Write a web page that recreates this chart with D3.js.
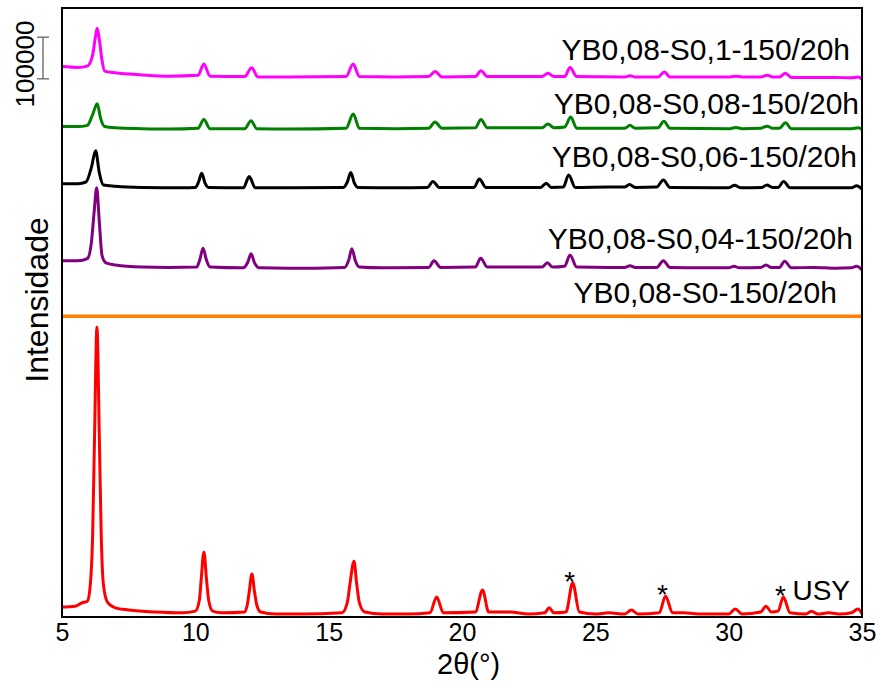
<!DOCTYPE html>
<html>
<head>
<meta charset="utf-8">
<script src="https://cdn.jsdelivr.net/npm/d3@7"></script>
<style>
  body { margin: 0; background: #fff; }
  text { font-family: "Liberation Sans", Arial, sans-serif; fill: #000; }
</style>
</head>
<body>
<div id="chart"></div>
<script>
// 2theta tick labels
const thetaTicks = [5, 10, 15, 20, 25, 30, 35];

// series names, top to bottom
const seriesNames = [
  "YB0,08-S0,1-150/20h",
  "YB0,08-S0,08-150/20h",
  "YB0,08-S0,06-150/20h",
  "YB0,08-S0,04-150/20h",
  "YB0,08-S0-150/20h",
  "USY"
];

// vertical stacking offset of each pattern (thousand counts)
const offsetsK = [1296, 1172, 1030, 838, 722, 0];

// [2theta, intensity in thousand counts]
const s01 = [[5.0,25],[5.6,23],[5.95,26],[6.15,53],[6.25,95],[6.32,117],[6.4,90],[6.5,40],[6.6,14],[7.0,10],[8.0,5],[9.0,2],
  [10.1,4],[10.32,31],[10.55,2],[11.85,1],[12.11,22],[12.35,0],[13.5,0],[15.65,1],[15.92,31],[16.15,1],[17.5,0],
  [18.75,1],[18.99,13],[19.25,0],[20.5,1],[20.71,15],[20.95,1],[23.0,1],[23.22,9],[23.45,1],[23.85,1],[24.05,23],[24.3,1],
  [26.1,0],[26.3,3],[26.5,0],[27.35,0],[27.59,12],[27.8,0],[30.05,0],[30.27,2],[30.5,0],[31.2,0],[31.45,4],[31.65,0],
  [31.9,0],[32.13,9],[32.35,-1],[34.0,-1],[34.6,-2],[34.86,0],[35.0,-5]];

const s008 = [[5.0,5],[5.6,5],[5.95,8],[6.15,34],[6.32,60],[6.45,24],[6.6,5],[7.0,2],[8.0,0],[9.0,-1],[10.1,1],[10.32,22],
  [10.55,0],[11.85,0],[12.09,19],[12.3,0],[13.5,-1],[15.65,1],[15.92,35],[16.15,1],[17.5,0],[18.75,1],[18.99,16],[19.25,1],
  [20.5,2],[20.71,22],[20.95,2],[23.0,2],[23.22,11],[23.45,2],[23.85,4],[24.08,28],[24.3,1],[26.1,1],[26.3,8],[26.5,1],
  [27.35,2],[27.57,18],[27.8,1],[30.05,0],[30.27,3],[30.5,0],[31.2,1],[31.45,6],[31.65,1],[31.9,1],[32.13,14],[32.35,0],
  [34.0,0],[34.6,0],[34.86,2],[35.0,-2]];

const s006 = [[5.0,10],[5.6,10],[5.9,14],[6.1,48],[6.26,89],[6.4,36],[6.55,7],[7.0,4],[8.0,1],[9.5,0],[10.0,1],[10.12,14],
  [10.24,35],[10.36,12],[10.5,1],[11.8,0],[12.02,27],[12.25,0],[13.5,0],[15.55,1],[15.7,14],[15.83,37],[15.96,12],[16.1,1],
  [17.5,0],[18.7,1],[18.91,15],[19.15,1],[20.45,1],[20.65,21],[20.9,1],[22.95,1],[23.16,11],[23.35,1],[23.8,2],[24.0,31],
  [24.25,1],[25.5,2],[26.1,2],[26.28,8],[26.5,1],[27.3,2],[27.55,19],[27.8,1],[29.5,0],[30.0,0],[30.22,6],[30.45,0],
  [31.25,1],[31.43,7],[31.65,1],[31.85,1],[32.06,15],[32.3,0],[34.0,0],[34.6,0],[34.8,5],[35.0,-3]];

const s004 = [[5.0,17],[5.6,17],[5.95,22],[6.1,60],[6.2,130],[6.3,192],[6.4,110],[6.5,30],[6.65,12],[7.0,7],[8.0,2],[9.0,1],
  [10.05,2],[10.17,20],[10.29,47],[10.42,18],[10.55,2],[11.8,0],[11.97,14],[12.09,34],[12.22,12],[12.4,0],[13.5,-1],
  [15.6,1],[15.75,18],[15.87,46],[16.0,17],[16.15,2],[17.0,0],[18.75,1],[18.95,17],[19.2,1],[20.5,2],[20.7,23],[20.95,2],
  [23.0,2],[23.2,12],[23.4,2],[23.85,4],[24.05,31],[24.3,2],[25.5,1],[26.1,1],[26.3,5],[26.5,1],[27.3,1],[27.55,17],
  [27.8,1],[29.0,0],[30.0,0],[30.2,4],[30.4,0],[31.2,1],[31.4,7],[31.6,1],[31.9,1],[32.1,16],[32.35,0],[33.2,1],
  [34.0,-1],[34.6,0],[34.8,4],[35.0,-5]];

const s0 = [[5.0,0],[10.0,0],[15.0,0],[20.0,0],[25.0,0],[30.0,0],[35.0,0]];

const usy = [[5.0,24],[5.5,26],[5.75,34],[5.95,38],[6.05,70],[6.15,200],[6.22,432],[6.31,696],[6.4,432],[6.47,200],[6.55,80],[6.7,36],[7.0,22],
  [7.5,17],[8.5,12],[9.5,10],[10.0,14],[10.15,40],[10.22,90],[10.32,156],[10.42,90],[10.5,40],[10.65,14],[11.0,10],[11.85,12],[11.95,30],[12.02,60],
  [12.12,103],[12.22,60],[12.3,30],[12.45,12],[13.0,7],[14.0,7],[15.5,10],[15.7,35],[15.8,80],[15.95,134],[16.05,80],[16.15,35],[16.35,12],[17.0,7],
  [18.0,7],[18.8,10],[19.05,48],[19.3,10],[20.5,12],[20.77,65],[21.0,12],[21.8,12],[22.5,7],[23.1,10],[23.27,22],
  [23.45,10],[23.9,12],[24.15,82],[24.4,12],[25.0,7],[25.5,10],[26.1,7],[26.35,17],[26.6,7],[27.4,10],[27.63,50],
  [27.9,10],[28.3,10],[29.0,7],[30.0,7],[30.25,19],[30.5,7],[31.2,12],[31.4,26],[31.6,12],[31.85,14],[32.05,48],
  [32.3,10],[32.9,7],[33.1,14],[33.35,7],[33.75,10],[34.2,7],[34.6,10],[34.85,19],[35.0,7]];

const patterns = [s01, s008, s006, s004, s0, usy];

// peaks marked with * on the USY pattern
const starPeaks = [24.15, 27.63, 32.05];

// scale bar value (counts)
const scaleBarValue = 100000;

// ---- layout / style ----
const colors = ["#ff00ff", "#008000", "#000000", "#800080", "#ff8000", "#ff0000"];
const widths = [3, 3, 3, 3, 3.5, 3];
// label anchor: [2theta at text end, baseline in thousand counts]
const labelAnchor = [[34.55, 1337], [34.89, 1207], [34.81, 1080], [34.66, 883], [34.06, 754]];

const margin = { top: 8, right: 17, bottom: 65, left: 62 };
const W = 879, H = 682;
const width = W - margin.left - margin.right;
const height = H - margin.top - margin.bottom;

const svg = d3.select("#chart").append("svg")
  .attr("width", W)
  .attr("height", H);

const g = svg.append("g")
  .attr("transform", `translate(${margin.left},${margin.top})`);

const x = d3.scaleLinear().domain([5, 35]).range([0, width]);
const y = d3.scaleLinear().domain([0, 1461.6]).range([height, 0]);

patterns.forEach((pts, i) => {
  const line = d3.line()
    .x(d => x(d[0]))
    .y(d => y(d[1] + offsetsK[i]))
    .curve(d3.curveMonotoneX);
  g.append("path")
    .datum(pts)
    .attr("fill", "none")
    .attr("stroke", colors[i])
    .attr("stroke-width", widths[i])
    .attr("stroke-linejoin", "round")
    .attr("d", line);
});

// frame
g.append("rect")
  .attr("x", 0).attr("y", 0)
  .attr("width", width).attr("height", height)
  .attr("fill", "none")
  .attr("stroke", "#000")
  .attr("stroke-width", 2);

// series labels
labelAnchor.forEach((a, i) => {
  g.append("text")
    .attr("x", x(a[0]))
    .attr("y", y(a[1]))
    .attr("text-anchor", "end")
    .style("font-size", "30px")
    .text(seriesNames[i]);
});

// USY label and stars
g.append("text")
  .attr("x", x(34.55))
  .attr("y", y(7))
  .attr("dy", -14)
  .attr("text-anchor", "end")
  .style("font-size", "28px")
  .text(seriesNames[5]);

starPeaks.forEach(t => {
  const p = usy.find(d => d[0] === t);
  g.append("text")
    .attr("x", x(t) - 3)
    .attr("y", y(p[1]) + 8)
    .attr("text-anchor", "middle")
    .style("font-size", "28px")
    .text("*");
});

// x axis
const xAxis = g.append("g")
  .attr("transform", `translate(0,${height})`)
  .call(d3.axisBottom(x).tickValues(thetaTicks).tickSize(0).tickPadding(6).tickFormat(d3.format("d")));
xAxis.select(".domain").remove();
xAxis.selectAll("text")
  .style("font-family", "'Liberation Sans', Arial, sans-serif")
  .style("font-size", "25px")
  .attr("fill", "#000");

g.append("text")
  .attr("x", x(20.25))
  .attr("y", height + 57)
  .attr("text-anchor", "middle")
  .style("font-size", "29px")
  .text("2θ(°)");

// y label
g.append("text")
  .attr("transform", `translate(-14,${292}) rotate(-90)`)
  .attr("text-anchor", "middle")
  .style("font-size", "32px")
  .text("Intensidade");

// scale bar
const barTop = 1391.6, barBot = barTop - scaleBarValue / 1000;
const bx = -19;
const bar = g.append("g").attr("stroke", "#555").attr("stroke-width", 1.2);
bar.append("line").attr("x1", bx).attr("x2", bx).attr("y1", y(barTop)).attr("y2", y(barBot));
bar.append("line").attr("x1", bx - 6).attr("x2", bx + 6).attr("y1", y(barTop)).attr("y2", y(barTop));
bar.append("line").attr("x1", bx - 6).attr("x2", bx + 6).attr("y1", y(barBot)).attr("y2", y(barBot));

g.append("text")
  .attr("transform", `translate(-28,${(y(barTop) + y(barBot)) / 2 + 6}) rotate(-90)`)
  .attr("text-anchor", "middle")
  .style("font-size", "26px")
  .text(d3.format("d")(scaleBarValue));
</script>
</body>
</html>
